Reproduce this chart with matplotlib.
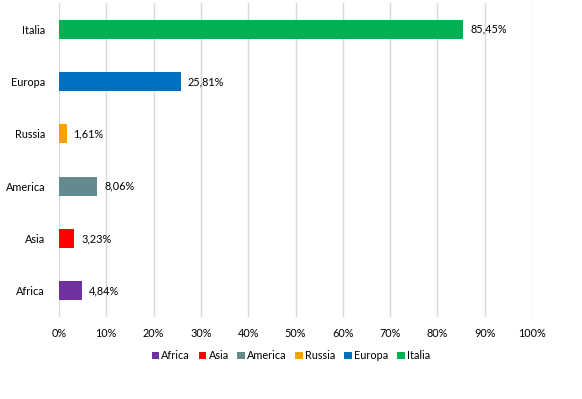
import matplotlib.pyplot as plt
from matplotlib.ticker import FuncFormatter

plt.rcParams['font.family'] = ['Lato', 'DejaVu Sans']

regions = ["Africa", "Asia", "America", "Russia", "Europa", "Italia"]
shares = [4.84, 3.23, 8.06, 1.61, 25.81, 85.45]
colors = ["#7030A0", "#FF0000", "#628A8F", "#FFA000", "#0070C0", "#00B050"]

fig = plt.figure(figsize=(5.82, 3.99), dpi=100)
ax = fig.add_axes([59 / 582, 1 - 317 / 399, 473 / 582, 314 / 399])

for i, (name, val, col) in enumerate(zip(regions, shares, colors)):
    ax.barh(i, val, height=0.36, color=col, label=name, zorder=3)
    ax.annotate(format(val, '.2f').replace('.', ',') + '%', (val, i),
                xytext=(5, 0), textcoords='offset points',
                ha='left', va='center', fontsize=7.8, color='black')

ax.set_xlim(0, 100)
ax.set_ylim(-0.5, len(regions) - 0.5)
ax.set_xticks(range(0, 101, 10))
ax.xaxis.set_major_formatter(FuncFormatter(lambda v, p: f"{int(v)}%"))
ax.set_yticks(range(len(regions)))
ax.set_yticklabels(regions)
ax.tick_params(axis='both', length=0, labelsize=7.8, pad=8)
ax.tick_params(axis='y', pad=10)
ax.grid(axis='x', color='#D9D9D9', linewidth=1, zorder=0)
for s in ax.spines.values():
    s.set_visible(False)

ax.legend(loc='upper center', bbox_to_anchor=(0.49, -0.075), ncol=6, frameon=False,
          fontsize=7.8, handlelength=0.7, handleheight=0.7, handletextpad=0.2,
          columnspacing=0.8)

plt.savefig("out.png", dpi=100)
